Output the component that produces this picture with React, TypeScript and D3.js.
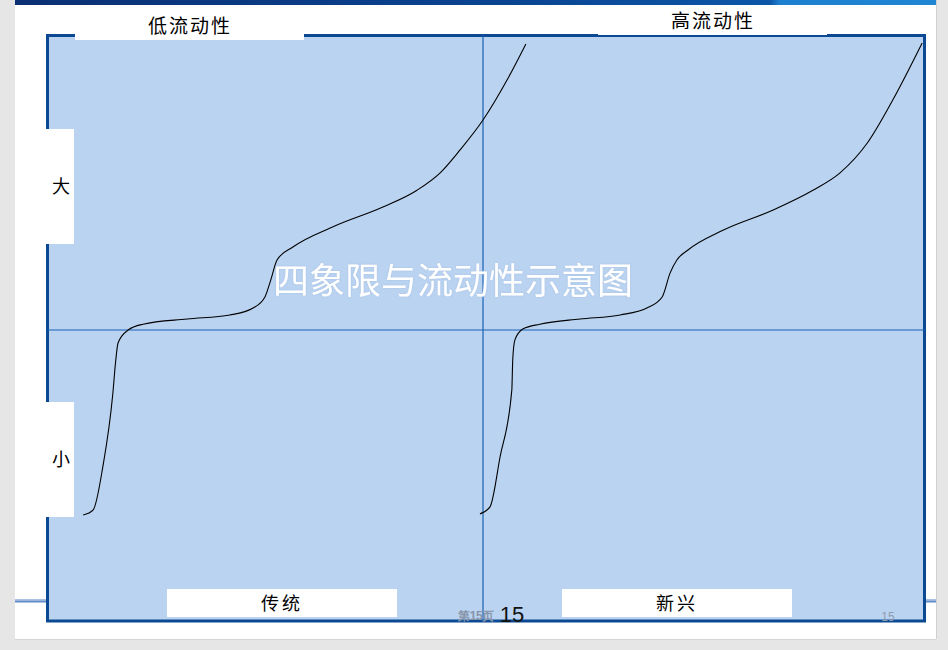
import * as d3 from "d3";
import React from "react";

// two liquidity curves, in chart units (x: -10..10, y: -5..5, origin at the axis cross)
const lowLiquidityCurve: [number, number][] = [
  [-9.15, -3.19], [-8.92, -3.1], [-8.7, -2.36], [-8.47, -1.09], [-8.41, -0.57],
  [-8.35, -0.22], [-8.12, 0], [-7.78, 0.1], [-6.77, 0.19], [-5.79, 0.26],
  [-5.26, 0.38], [-4.99, 0.57], [-4.87, 0.83], [-4.71, 1.21], [-4.35, 1.43],
  [-3.43, 1.78], [-2.29, 2.12], [-1.51, 2.41], [-0.98, 2.71], [-0.53, 3.1],
  [0, 3.62], [0.55, 4.31], [0.98, 4.93],
];

const highLiquidityCurve: [number, number][] = [
  [-0.07, -3.17], [0.16, -3.05], [0.39, -2.19], [0.66, -1.03], [0.68, -0.52],
  [0.73, -0.17], [0.92, 0.02], [1.3, 0.1], [2.22, 0.19], [3.14, 0.26],
  [3.75, 0.38], [4.1, 0.57], [4.28, 0.98], [4.44, 1.21], [4.69, 1.38],
  [5.49, 1.72], [6.64, 2.07], [7.55, 2.41], [8.17, 2.71], [8.79, 3.22],
  [9.38, 3.97], [10.05, 4.95],
];

const topLabels = ["低流动性", "高流动性"];
const bottomLabels = ["传统", "新兴"];
const sideLabels = ["大", "小"];
const title = "四象限与流动性示意图";
const pageNumber = "15";

const W = 948;
const H = 650;

export default function App(): React.ReactElement {
  // plot frame
  const box = { left: 47.5, top: 35.5, right: 924.5, bottom: 621 };

  const x = d3.scaleLinear().domain([-10, 10]).range([46, 920]);
  const y = d3.scaleLinear().domain([-5, 5]).range([620, 40]);

  const line = d3
    .line<[number, number]>()
    .x((d) => x(d[0]))
    .y((d) => y(d[1]))
    .curve(d3.curveMonotoneX);

  const labelFont = "'Noto Sans CJK SC', 'Noto Sans', sans-serif";
  const numFont = "'Liberation Sans Narrow', 'Liberation Sans', sans-serif";

  return (
    <svg
      width={W}
      height={H}
      style={{ position: "absolute", left: 0, top: 0, display: "block" }}
    >
      <defs>
        <linearGradient id="band" x1="0" x2="1" y1="0" y2="0">
          <stop offset="0%" stopColor="#0b2f73" />
          <stop offset="55%" stopColor="#0a4592" />
          <stop offset="82%" stopColor="#0d57a8" />
          <stop offset="83%" stopColor="#1d7fcf" />
          <stop offset="100%" stopColor="#1f86d4" />
        </linearGradient>
        <filter id="glow" x="-5%" y="-20%" width="110%" height="140%">
          <feDropShadow dx="0" dy="0" stdDeviation="1.2" floodColor="#a5c0e2" floodOpacity="0.9" />
        </filter>
      </defs>

      {/* page and slide */}
      <rect width={W} height={H} fill="#e6e6e6" />
      <rect x={15} y={0} width={921} height={639} fill="#ffffff" />
      <line x1={936.5} x2={936.5} y1={0} y2={639} stroke="#d0d0d0" />
      <line x1={15} x2={936} y1={639.5} y2={639.5} stroke="#d4d4d4" />
      <rect x={15} y={0} width={921} height={5} fill="url(#band)" />

      {/* footer rule */}
      <rect x={15} y={599} width={921} height={1.5} fill="#a9c0e3" />
      <rect x={15} y={600.5} width={921} height={2} fill="#5f8bc9" />

      {/* plot area */}
      <rect
        x={box.left}
        y={box.top}
        width={box.right - box.left}
        height={box.bottom - box.top}
        fill="#bad3f1"
        stroke="#0b4a92"
        strokeWidth={3}
      />

      {/* axes through the middle */}
      <line x1={x(0)} x2={x(0)} y1={box.top} y2={box.bottom} stroke="#1a62b6" strokeWidth={1.2} />
      <line x1={box.left} x2={box.right} y1={y(0)} y2={y(0)} stroke="#1a62b6" strokeWidth={1.2} />

      {/* title */}
      <text
        x={453}
        y={294}
        fill="#ffffff"
        fontFamily={labelFont}
        fontSize={36}
        textAnchor="middle"
        filter="url(#glow)"
      >
        {title}
      </text>

      {/* curves */}
      {[lowLiquidityCurve, highLiquidityCurve].map((c, i) => (
        <path key={`curve-${i}`} d={line(c) ?? ""} fill="none" stroke="#000000" strokeWidth={1.1} />
      ))}

      {/* top labels */}
      {topLabels.map((t, i) => {
        const bx = i === 0 ? 75 : 598;
        const bh = i === 0 ? 35 : 30;
        return (
          <g key={`top-${t}`}>
            <rect x={bx} y={5} width={229} height={bh} fill="#ffffff" />
            <text
              x={bx + 115}
              y={i === 0 ? 33 : 28}
              fontFamily={labelFont}
              fontSize={19}
              letterSpacing={2}
              textAnchor="middle"
              fill="#000000"
            >
              {t}
            </text>
          </g>
        );
      })}

      {/* side labels */}
      {sideLabels.map((t, i) => {
        const by = i === 0 ? 129 : 402;
        return (
          <g key={`side-${t}`}>
            <rect x={46} y={by} width={28} height={115} fill="#ffffff" />
            <text
              x={61}
              y={by + 64}
              fontFamily={labelFont}
              fontSize={18}
              textAnchor="middle"
              fill="#000000"
            >
              {t}
            </text>
          </g>
        );
      })}

      {/* bottom labels */}
      {bottomLabels.map((t, i) => {
        const bx = i === 0 ? 167 : 562;
        return (
          <g key={`bottom-${t}`}>
            <rect x={bx} y={589} width={230} height={28} fill="#ffffff" />
            <text
              x={bx + 115}
              y={610}
              fontFamily={labelFont}
              fontSize={18}
              letterSpacing={3}
              textAnchor="middle"
              fill="#000000"
            >
              {t}
            </text>
          </g>
        );
      })}

      {/* page numbers */}
      <text x={476} y={620} fontFamily={numFont} fontWeight="bold" fontSize={12} fill="#8795aa" textAnchor="middle" letterSpacing={-0.5}>
        {`第${pageNumber}页`}
      </text>
      <text x={512} y={622} fontFamily={numFont} fontSize={22} fill="#111111" textAnchor="middle">
        {pageNumber}
      </text>
      <text x={888} y={621} fontFamily={numFont} fontSize={12} fill="#8f9cb0" textAnchor="middle">
        {pageNumber}
      </text>
    </svg>
  );
}
